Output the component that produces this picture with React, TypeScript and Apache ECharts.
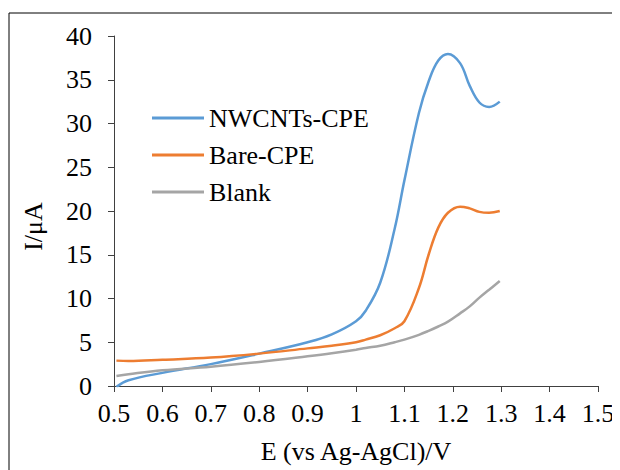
import React, { useEffect, useRef } from "react";
import * as echarts from "echarts";

const potentials = [0.505, 0.53, 0.6, 0.7, 0.8, 0.9, 0.95, 1.0, 1.02, 1.05, 1.08, 1.1, 1.13, 1.15, 1.17, 1.19, 1.215, 1.235, 1.255, 1.275, 1.297];
const nwcnts = [-0.1, 0.65, 1.5, 2.5, 3.7, 5.0, 5.9, 7.4, 8.6, 11.8, 18.0, 23.5, 31.2, 34.8, 37.2, 37.95, 36.9, 34.3, 32.4, 31.9, 32.5];
const bare = [2.9, 2.85, 3.0, 3.25, 3.7, 4.3, 4.6, 5.0, 5.3, 5.8, 6.6, 7.4, 11.2, 15.0, 18.1, 19.8, 20.5, 20.3, 19.9, 19.8, 20.0];
const blank = [1.15, 1.35, 1.8, 2.2, 2.75, 3.4, 3.75, 4.15, 4.35, 4.6, 5.0, 5.3, 5.85, 6.3, 6.8, 7.35, 8.3, 9.1, 10.1, 11.0, 12.0];
const seriesNames = ["NWCNTs-CPE", "Bare-CPE", "Blank"];
const seriesValues = [nwcnts, bare, blank];
const colors = ["#5B9BD5", "#ED7D31", "#A5A5A5"];
const yTitle = "I/μA";
const xTitle = "E (vs Ag-AgCl)/V";

const FONT = '"Liberation Serif", "Times New Roman", serif';

export default function App() {
  const ref = useRef<HTMLDivElement>(null);
  useEffect(() => {
    if (!ref.current) return;
    const chart = echarts.init(ref.current, null, { renderer: "svg" });
    chart.setOption({
      animation: false,
      backgroundColor: "#ffffff",
      textStyle: { fontFamily: FONT },
      grid: { left: 106, top: 28, right: 22, bottom: 84 },
      legend: {
        orient: "vertical",
        left: 139,
        top: 92,
        itemWidth: 52,
        itemHeight: 3,
        itemGap: 11,
        icon: "rect",
        data: seriesNames,
        textStyle: { fontFamily: FONT, fontSize: 26, color: "#000", lineHeight: 26, padding: [0, 0, 0, 0] },
      },
      xAxis: {
        type: "value",
        min: 0.5,
        max: 1.5,
        interval: 0.1,
        name: xTitle,
        nameLocation: "middle",
        nameGap: 52,
        nameTextStyle: { fontFamily: FONT, fontSize: 26, color: "#000" },
        axisLine: { show: true, lineStyle: { color: "#404040", width: 1 } },
        axisTick: { show: true, length: 6, lineStyle: { color: "#404040" } },
        axisLabel: {
          fontFamily: FONT,
          fontSize: 26,
          color: "#000",
          margin: 14,
          formatter: (v: number) => String(Math.round(v * 10) / 10),
        },
        splitLine: { show: false },
      },
      yAxis: {
        type: "value",
        min: 0,
        max: 40,
        interval: 5,
        axisLine: { show: true, lineStyle: { color: "#404040", width: 1 } },
        axisTick: { show: true, length: 6, lineStyle: { color: "#404040" } },
        axisLabel: { fontFamily: FONT, fontSize: 26, color: "#000", margin: 22 },
        splitLine: { show: false },
      },
      graphic: [
        { type: "line", shape: { x1: 1, y1: 5, x2: 611, y2: 5 }, style: { stroke: "#000", lineWidth: 1 } },
        { type: "line", shape: { x1: 1, y1: 5, x2: 1, y2: 462 }, style: { stroke: "#000", lineWidth: 1 } },
        {
          type: "text",
          x: 25.5,
          y: 218.5,
          rotation: Math.PI / 2,
          style: {
            text: yTitle,
            fontFamily: FONT,
            fontSize: 26,
            fill: "#000",
            align: "center",
            verticalAlign: "middle",
          },
        },
      ],
      series: seriesNames.map((name, i) => ({
        name,
        type: "line",
        smooth: 0.4,
        showSymbol: false,
        symbol: "none",
        lineStyle: { color: colors[i], width: 2.5 },
        itemStyle: { color: colors[i] },
        data: potentials.map((e, j) => [e, seriesValues[i][j]]),
      })),
    });
    return () => chart.dispose();
  }, []);
  return <div ref={ref} style={{ width: 612, height: 462 }} />;
}
